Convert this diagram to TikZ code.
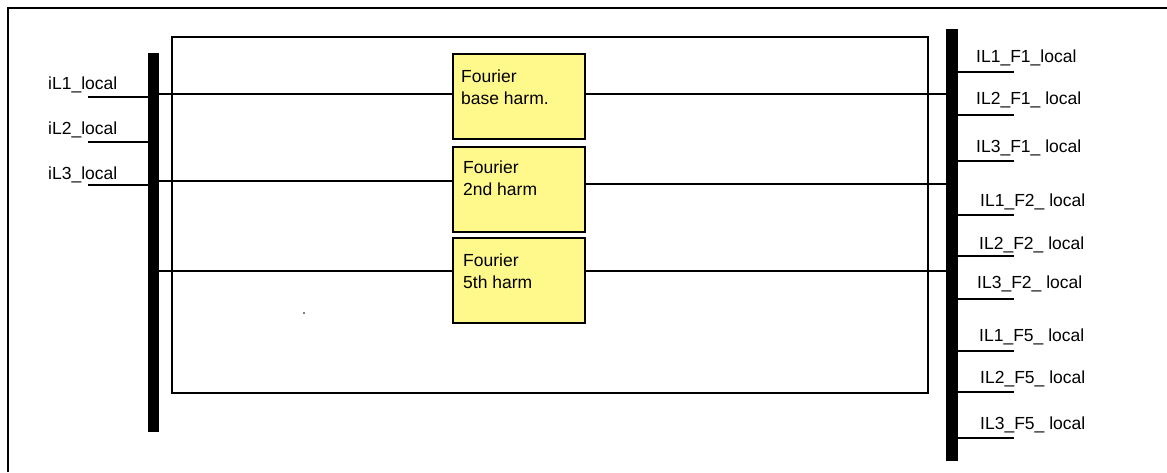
\documentclass[tikz,border=0pt]{standalone}
\usepackage{fontspec}
\setmainfont{Liberation Sans}
\begin{document}
\begin{tikzpicture}[x=1pt,y=-1pt,
  bar/.style={fill=black,draw=none,minimum width=11.5pt,inner sep=0pt},
  fbox/.style={draw=black,line width=2pt,fill=yellow!45!white,minimum width=132pt,minimum height=85pt,inner sep=0pt},
  frame/.style={draw=black,line width=1.5pt,inner sep=0pt},
  lbl/.style={anchor=base west,inner sep=0pt,font=\fontsize{17.5}{21}\selectfont},
  btxt/.style={anchor=base west,inner sep=0pt,align=left,font=\fontsize{17.5}{22}\selectfont},
  wire/.style={line width=1.5pt},
  iwire/.style={line width=1.3pt}]
\useasboundingbox (0,0) rectangle (1167,472);
\fill[white] (0,0) rectangle (1167,472);
% outer frame
\draw[line width=2pt] (8,472) -- (8,8) -- (1167,8);
% inner frame
\node[frame,minimum width=756pt,minimum height=356pt] (inner) at (550,215) {};
% bars
\node[bar,minimum height=379pt] (lbar) at (153.5,242.5) {};
\node[bar,minimum height=432pt] (rbar) at (952,245) {};
% Fourier boxes
\node[fbox] (b1) at (518.5,96) {};
\node[fbox] (b2) at (518.5,189) {};
\node[fbox] (b3) at (518.5,280.5) {};
\node[btxt] (t1a) at (461,82) {Fourier};
\node[btxt] (t1b) at (461,104) {base harm.};
\node[btxt] (t2a) at (463,173) {Fourier};
\node[btxt] (t2b) at (463,195) {2nd harm};
\node[btxt] (t3a) at (463,266) {Fourier};
\node[btxt] (t3b) at (463,288) {5th harm};
% input labels and wires
\node[lbl] (l1) at (48,89) {iL1\_local};
\node[lbl] (l2) at (48,134) {iL2\_local};
\node[lbl] (l3) at (48,179) {iL3\_local};
\coordinate (i1) at (88,97);
\coordinate (i2) at (88,142);
\coordinate (i3) at (88,185);
\draw[wire] (i1) -- (i1 -| lbar.west);
\draw[wire] (i2) -- (i2 -| lbar.west);
\draw[wire] (i3) -- (i3 -| lbar.west);
% internal wires
\coordinate (y1) at (0,94);
\coordinate (y2) at (0,181);
\coordinate (y3) at (0,271);
\draw[iwire] (lbar.east |- y1) -- (b1.west |- y1);
\draw[iwire] (lbar.east |- y2) -- (b2.west |- y2);
\draw[iwire] (lbar.east |- y3) -- (b3.west |- y3);
\coordinate (z1) at (0,94);
\coordinate (z2) at (0,184);
\coordinate (z3) at (0,271);
\draw[iwire] (b1.east |- z1) -- (rbar.west |- z1);
\draw[iwire] (b2.east |- z2) -- (rbar.west |- z2);
\draw[iwire] (b3.east |- z3) -- (rbar.west |- z3);
% output labels and wires
\foreach \n/\yl/\yw/\xl/\txt in {
  o1/62/72/976/IL1\_F1\_local,
  o2/104/115/976/IL2\_F1\_ local,
  o3/152/161/976/IL3\_F1\_ local,
  o4/206/215/980/IL1\_F2\_ local,
  o5/249/256/979/IL2\_F2\_ local,
  o6/288/299/977/IL3\_F2\_ local,
  o7/341/351/979/IL1\_F5\_ local,
  o8/383/392/980/IL2\_F5\_ local,
  o9/429/438/980/IL3\_F5\_ local}{
  \node[lbl] (\n) at (\xl,\yl) {\txt};
  \coordinate (\n w) at (1014,\yw);
  \draw[wire] (rbar.east |- \n w) -- (\n w);
}
% stray dot
\fill (304,313) circle (0.9pt);
\end{tikzpicture}
\end{document}
